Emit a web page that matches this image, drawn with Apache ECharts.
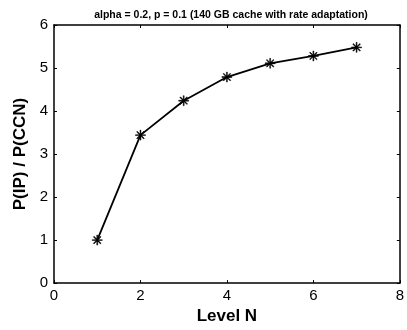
<!DOCTYPE html>
<html><head><meta charset="utf-8">
<script src="https://cdn.jsdelivr.net/npm/echarts@6/dist/echarts.min.js"></script>
<style>html,body{margin:0;padding:0;background:#fff}#c{width:407px;height:330px}</style>
</head><body><div id="c"></div>
<script>
const levels = [1, 2, 3, 4, 5, 6, 7];
const ratio = [1.0, 3.44, 4.24, 4.79, 5.11, 5.28, 5.48];
const titleText = 'alpha = 0.2, p = 0.1 (140 GB cache with rate adaptation)';
const xLabel = 'Level N';
const yLabel = 'P(IP) / P(CCN)';

const FONT = '"Liberation Sans", Arial, Helvetica, sans-serif';
const asterisk = 'path://M-0.9,-10 L0.9,-10 L0.9,10 L-0.9,10 Z M-10,-0.9 L-10,0.9 L10,0.9 L10,-0.9 Z M-6.4,-7.7 L7.7,6.4 L6.4,7.7 L-7.7,-6.4 Z M6.4,-7.7 L7.7,-6.4 L-6.4,7.7 L-7.7,6.4 Z';

const chart = echarts.init(document.getElementById('c'), null, {renderer: 'canvas'});
const axisLine = {show: true, onZero: false, lineStyle: {color: '#000', width: 1.5}};
const tick = {show: true, inside: true, length: 3, lineStyle: {color: '#000', width: 1}};
chart.setOption({
  animation: false,
  backgroundColor: '#fff',
  title: {
    text: titleText, left: 226, top: 5, textAlign: 'center',
    textStyle: {fontFamily: FONT, fontSize: 10.5, fontWeight: 'bold', color: '#000'}
  },
  grid: {left: 54, right: 6, top: 25, bottom: 43, containLabel: false},
  xAxis: [{
    type: 'value', min: 0, max: 8, interval: 2,
    axisLine: axisLine, axisTick: tick,
    axisLabel: {color: '#000', fontFamily: FONT, fontSize: 15, margin: 5},
    splitLine: {show: false},
    name: xLabel, nameLocation: 'middle', nameGap: 24,
    nameTextStyle: {color: '#000', fontFamily: FONT, fontSize: 17, fontWeight: 'bold'}
  }, {
    type: 'value', position: 'top', min: 0, max: 8, interval: 2,
    axisLine: axisLine, axisTick: tick,
    axisLabel: {show: false}, splitLine: {show: false}
  }],
  yAxis: [{
    type: 'value', min: 0, max: 6, interval: 1,
    axisLine: axisLine, axisTick: tick,
    axisLabel: {color: '#000', fontFamily: FONT, fontSize: 15, margin: 6},
    splitLine: {show: false},
    name: yLabel, nameLocation: 'middle', nameGap: 17,
    nameTextStyle: {color: '#000', fontFamily: FONT, fontSize: 17, fontWeight: 'bold'}
  }, {
    type: 'value', position: 'right', min: 0, max: 6, interval: 1,
    axisLine: axisLine, axisTick: tick,
    axisLabel: {show: false}, splitLine: {show: false}
  }],
  series: [{
    type: 'line',
    data: levels.map((x, i) => [x, ratio[i]]),
    symbol: asterisk, symbolSize: 10, showAllSymbol: true,
    lineStyle: {color: '#000', width: 1.8},
    itemStyle: {color: '#000', borderColor: '#000', borderWidth: 0.5}
  }]
});
</script></body></html>
